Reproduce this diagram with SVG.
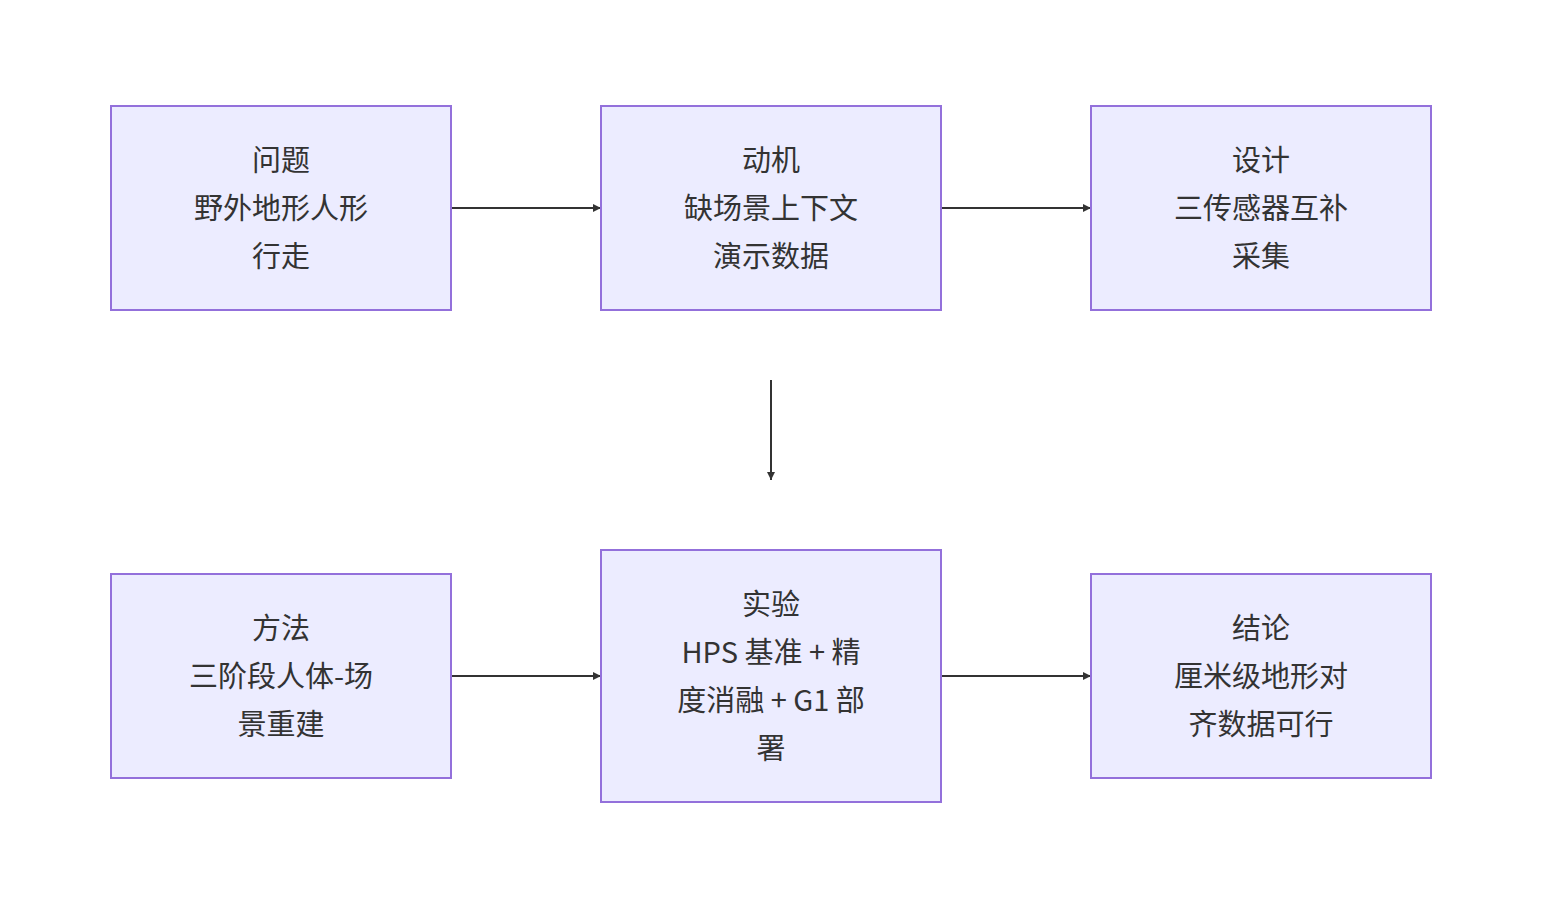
<svg xmlns="http://www.w3.org/2000/svg" width="1542" height="908" viewBox="0 0 1542 908">
<style>
.n rect{fill:#ECECFF;stroke:#9370DB;stroke-width:2}
.n text{font-family:"Noto Sans CJK SC","Noto Sans",sans-serif;font-size:29px;fill:#333;text-anchor:middle;dominant-baseline:central}
.e path{stroke:#333;stroke-width:2;fill:none;marker-end:url(#a)}
</style>
<defs><marker id="a" viewBox="0 0 10 10" refX="10" refY="5" markerWidth="8" markerHeight="8" markerUnits="userSpaceOnUse" orient="auto"><path d="M0,0L10,5L0,10z" fill="#333"/></marker></defs>
<rect width="1542" height="908" fill="#fff"/>
<g class="e">
<path d="M452,208H601"/>
<path d="M942,208H1091"/>
<path d="M771,380V480"/>
<path d="M452,676H601"/>
<path d="M942,676H1091"/>
</g>
<g id="n1" class="n"><rect x="111" y="106" width="340" height="204"/><text x="281" y="158">问题</text><text x="281" y="206">野外地形人形</text><text x="281" y="254">行走</text></g>
<g id="n2" class="n"><rect x="601" y="106" width="340" height="204"/><text x="771" y="158">动机</text><text x="771" y="206">缺场景上下文</text><text x="771" y="254">演示数据</text></g>
<g id="n3" class="n"><rect x="1091" y="106" width="340" height="204"/><text x="1261" y="158">设计</text><text x="1261" y="206">三传感器互补</text><text x="1261" y="254">采集</text></g>
<g id="n4" class="n"><rect x="111" y="574" width="340" height="204"/><text x="281" y="626">方法</text><text x="281" y="674">三阶段人体-场</text><text x="281" y="722">景重建</text></g>
<g id="n5" class="n"><rect x="601" y="550" width="340" height="252"/><text x="771" y="602">实验</text><text x="771" y="650">HPS 基准 + 精</text><text x="771" y="698">度消融 + G1 部</text><text x="771" y="746">署</text></g>
<g id="n6" class="n"><rect x="1091" y="574" width="340" height="204"/><text x="1261" y="626">结论</text><text x="1261" y="674">厘米级地形对</text><text x="1261" y="722">齐数据可行</text></g>
</svg>
